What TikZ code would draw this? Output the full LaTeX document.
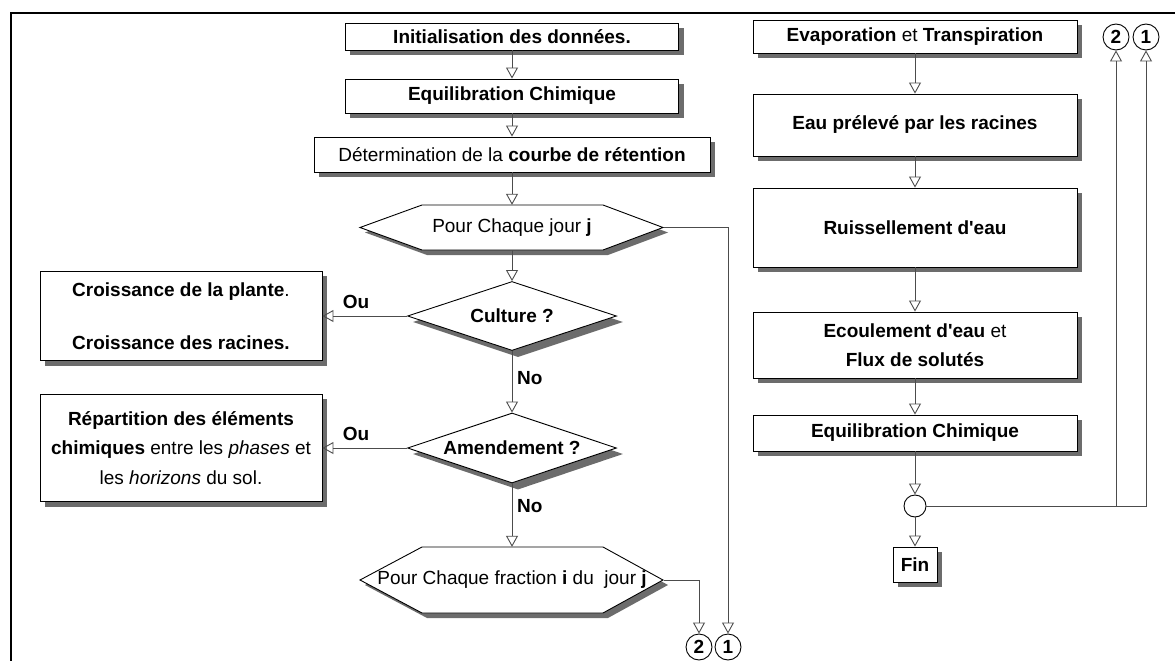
\documentclass[tikz,border=0pt]{standalone}
\usepackage{fontspec}
\setmainfont{Liberation Sans}
\usetikzlibrary{arrows.meta,shapes.geometric,backgrounds}
\definecolor{gris}{RGB}{108,108,108}
\begin{document}
\begin{tikzpicture}[x=1pt,y=-1pt,>={Triangle[open,length=11pt,width=12pt]},
        every node/.style={font=\fontsize{19}{24}\selectfont},
        boite/.style={draw,fill=white,line width=0.9pt,inner sep=0pt,align=center},
        losange/.style={boite,diamond,aspect=3,minimum width=209pt,minimum height=69pt},
        lien/.style={draw=black!70,line width=0.9pt},
        ombre/.style={fill=gris},
        rond/.style={circle,draw,fill=white,line width=0.9pt,minimum size=26pt,inner sep=0pt,font=\fontsize{19}{19}\selectfont\bfseries},
        etiq/.style={font=\fontsize{19}{24}\selectfont\bfseries,inner sep=0pt}]
    \useasboundingbox (0,0) rectangle (1175,661);
    \draw[line width=2.2pt] (11,661)--(11,13)--(1175,13);
    % colonne de gauche
    \node[boite,minimum width=333pt,minimum height=27pt] (init) at (512,36.5) {\textbf{Initialisation des données.}};
    \node[boite,minimum width=333pt,minimum height=34pt] (equi1) at (512,96) {\textbf{Equilibration Chimique}};
    \node[boite,minimum width=396pt,minimum height=35pt] (determ) at (512,154.5) {Détermination de la \textbf{courbe de rétention}};
    \foreach \yc/\hh in {227.5/22.5,580/33}
        {
            \fill[ombre] (365,{\yc+5})--(427,{\yc-\hh+5})--(608,{\yc-\hh+5})--(668,{\yc+5})--(608,{\yc+\hh+5})--(427,{\yc+\hh+5})--cycle;
            \draw[fill=white,line width=0.9pt] (360,\yc)--(422,{\yc-\hh})--(603,{\yc-\hh})--(663,\yc)--(603,{\yc+\hh})--(422,{\yc+\hh})--cycle;
        }
    \node[minimum width=303pt,minimum height=45pt,inner sep=0pt] (jour) at (512,227.5) {Pour Chaque jour \textbf{j}};
    \node[losange] (cult) at (512,316) {\textbf{Culture ?}};
    \node[losange,minimum height=70pt] (amend) at (512,448) {\textbf{Amendement ?}};
    \node[minimum width=303pt,minimum height=66pt,inner sep=0pt] (frac) at (512,580) {Pour Chaque fraction \textbf{i} du \ jour \textbf{j}};
    \node[boite,minimum width=282pt,minimum height=89pt] (crois) at (181,316) {\textbf{Croissance de la plante}.\\[29pt]\textbf{Croissance des racines.}};
    \node[boite,minimum width=282pt,minimum height=107pt,font=\fontsize{19}{29.5}\selectfont] (repart) at (181,448)
        {\textbf{Répartition des éléments}\\\textbf{chimiques} entre les \textit{phases} et\\les \textit{horizons} du sol.};
    \node[etiq] (ou1) at (356,302) {Ou};
    \node[etiq] (ou2) at (356,434) {Ou};
    \node[etiq,anchor=west] (non1) at (517,378) {No};
    \node[etiq,anchor=west] (non2) at (517,506) {No};
    \node[rond] (deuxb) at (699,647) {2};
    \node[rond] (unb) at (728,647) {1};
    % colonne de droite
    \node[boite,minimum width=324pt,minimum height=33pt] (evap) at (915,36.5) {\textbf{Evaporation} et \textbf{Transpiration}};
    \node[boite,minimum width=324pt,minimum height=62pt] (eau) at (915,125) {\textbf{Eau prélevé par les racines}};
    \node[boite,minimum width=324pt,minimum height=79pt] (ruis) at (915,227.5) {\textbf{Ruissellement d\textquotesingle eau}};
    \node[boite,minimum width=324pt,minimum height=66pt,font=\fontsize{19}{29}\selectfont] (ecoul) at (915,345)
        {\textbf{Ecoulement d\textquotesingle eau} et\\\textbf{Flux de solutés}};
    \node[boite,minimum width=324pt,minimum height=36pt] (equi2) at (915,433) {\textbf{Equilibration Chimique}};
    \node[circle,draw,fill=white,line width=0.9pt,minimum size=22pt,inner sep=0pt] (jonc) at (915,506) {};
    \node[boite,minimum width=44pt,minimum height=35pt] (fin) at (915,564.5) {\textbf{Fin}};
    \node[rond] (deuxh) at (1116,37) {2};
    \node[rond] (unh) at (1146,37) {1};
    % ombres
    \begin{scope}[on background layer]
        \foreach \n in {init,equi1,determ,crois,repart,evap,eau,ruis,ecoul,equi2,fin}
            {
                \fill[ombre] ([xshift=5pt,yshift=-5pt]\n.south west) rectangle ([xshift=5pt,yshift=-5pt]\n.north east);
            }
        \foreach \n in {cult,amend}
            {
                \fill[ombre] ([xshift=6pt,yshift=-6pt]\n.north)--([xshift=6pt,yshift=-6pt]\n.east)--([xshift=6pt,yshift=-6pt]\n.south)--([xshift=6pt,yshift=-6pt]\n.west)--cycle;
            }
    \end{scope}
    \foreach \a/\b in {init/equi1,equi1/determ,determ/jour,jour/cult,cult/amend,amend/frac,cult/crois,amend/repart,
                       evap/eau,eau/ruis,ruis/ecoul,ecoul/equi2,equi2/jonc,jonc/fin}
        {
            \draw[lien,->] (\a)--(\b);
        }
    \draw[lien,->] (jour.east)-|(unb);
    \draw[lien,->] (frac.east)-|(deuxb);
    \draw[lien,->] (jonc)-|(unh);
    \coordinate (branche) at (deuxh|-jonc);
    \draw[lien,->] (branche)--(deuxh);
\end{tikzpicture}
\end{document}
